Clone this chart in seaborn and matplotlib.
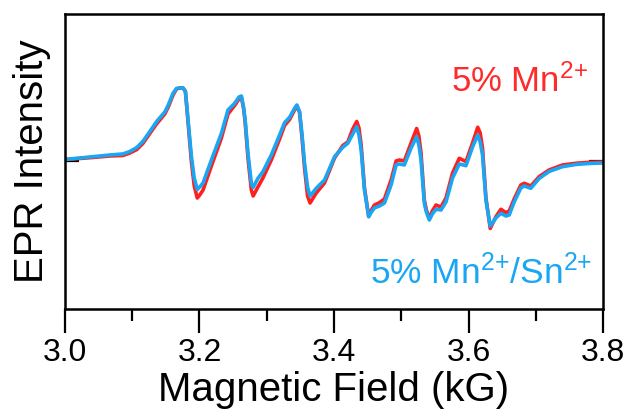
import numpy as np
import pandas as pd
import matplotlib
matplotlib.use("Agg")
import matplotlib.pyplot as plt
import seaborn as sns
from matplotlib.ticker import MultipleLocator

# Magnetic field (kG)
field = [3.0000, 3.0223, 3.0416, 3.0668, 3.0861, 3.0965, 3.1069, 3.1158, 3.1262, 3.1361,
         3.1484, 3.1533, 3.1607, 3.1658, 3.1707, 3.1756, 3.1791, 3.1830, 3.1880, 3.1922,
         3.1967, 3.2004, 3.2053, 3.2177, 3.2326, 3.2424, 3.2523, 3.2587, 3.2623, 3.2657,
         3.2679, 3.2721, 3.2771, 3.2798, 3.2869, 3.2943, 3.3068, 3.3191, 3.3265, 3.3340,
         3.3414, 3.3448, 3.3488, 3.3525, 3.3562, 3.3607, 3.3644, 3.3681, 3.3736, 3.3859,
         3.4008, 3.4131, 3.4205, 3.4279, 3.4338, 3.4371, 3.4404, 3.4453, 3.4516, 3.4557,
         3.4601, 3.4675, 3.4750, 3.4849, 3.4923, 3.4972, 3.5046, 3.5146, 3.5229, 3.5262,
         3.5294, 3.5343, 3.5373, 3.5417, 3.5462, 3.5517, 3.5591, 3.5665, 3.5763, 3.5863,
         3.5962, 3.6060, 3.6137, 3.6174, 3.6208, 3.6259, 3.6323, 3.6407, 3.6482, 3.6556,
         3.6605, 3.6679, 3.6778, 3.6827, 3.6927, 3.7050, 3.7198, 3.7396, 3.7595, 3.7792,
         3.8000]

# EPR derivative signal, 5% Mn2+
mn = [1.5, 2.5, 3.5, 5, 5.5, 8, 11.5, 17.5, 27.5, 37,
      47, 53.5, 66, 72, 73, 73, 69.5, 39, -1, -25,
      -37, -34, -29, -5, 23, 47, 55.5, 62, 64, 52,
      39, 3, -29, -35, -26, -17, 1, 22, 35.5, 41.5,
      51, 55, 48.5, 23, -7, -35, -42, -38, -32, -22,
      3, 15.5, 19, 32, 39.5, 33, 16, -27, -55.5, -49,
      -44, -41.7, -38, -19, 0, 1, 0, 18, 32.5, 25,
      8, -39, -49, -57.5, -50, -44, -46, -37, -12, 2.7,
      -0.7, 18, 33.7, 28, 13, -37, -67.5, -55.7, -48.3, -51.7,
      -50, -38, -24, -22.3, -25, -15.7, -9, -4, -2.3, -1.3,
      -1]

# EPR derivative signal, 5% Mn2+/Sn2+
mn_sn = [1.5, 3, 4.3, 6, 7, 9.5, 13.5, 19.5, 29.5, 39.3,
         49, 55.5, 67.7, 72.5, 73.2, 73, 69.5, 41, 4.3, -17,
         -28.5, -26, -22, 1, 27.7, 51, 57.7, 64, 65, 53,
         41, 7.7, -22.3, -26.5, -17.3, -10.7, 6, 26, 38.3, 43.7,
         52.7, 56, 49.3, 26, -2.3, -26, -35, -32, -27.3, -19,
         4.3, 13.7, 17.7, 27, 34.3, 26, 11, -29, -55.7, -51,
         -47, -45, -42, -24, -4, -3, -4, 13, 24.3, 16,
         1, -42.3, -51, -59, -53, -48.3, -49, -41, -17, -3,
         -4.7, 14, 26, 19, 6, -39, -65, -57, -52.3, -55,
         -54, -41, -27, -25, -27.3, -17.5, -10.5, -5.7, -3.5, -2.5,
         -2]

samples = ["5% Mn$^{2{+}}$", "5% Mn$^{2{+}}$/Sn$^{2{+}}$"]
colors = ["#ff1f1f", "#1aa6f2"]
xticks = [3.0, 3.2, 3.4, 3.6, 3.8]

df = pd.concat([
    pd.DataFrame({"field": field, "signal": mn, "sample": samples[0]}),
    pd.DataFrame({"field": field, "signal": mn_sn, "sample": samples[1]}),
])

sns.set_theme(style="ticks")
plt.rcParams["font.family"] = ["Liberation Sans", "DejaVu Sans"]
plt.rcParams["mathtext.fontset"] = "custom"
plt.rcParams["mathtext.rm"] = "Liberation Sans"
plt.rcParams["mathtext.it"] = "Liberation Sans"
plt.rcParams["mathtext.default"] = "regular"
plt.rcParams["text.color"] = "black"
plt.rcParams["axes.labelcolor"] = "black"
plt.rcParams["xtick.color"] = "black"
plt.rcParams["ytick.color"] = "black"

fig = plt.figure(figsize=(6.29, 4.11), dpi=100)
ax = fig.add_axes([0.1033, 0.2482, 0.8554, 0.7178])

sns.lineplot(data=df, x="field", y="signal", hue="sample", hue_order=samples,
             palette=colors, sort=False, estimator=None, linewidth=2.6,
             legend=False, ax=ax)
for line in ax.lines:
    line.set_solid_joinstyle("round")
    line.set_solid_capstyle("round")

ax.set_xlim(3.0, 3.8)
ax.set_ylim(-148, 147)
ax.set_xticks(xticks)
ax.set_xticklabels([f"{v:.1f}" for v in xticks])
ax.xaxis.set_minor_locator(MultipleLocator(0.1))
ax.tick_params(axis="x", which="major", direction="out", length=17, width=1.6,
               labelsize=23, pad=4)
ax.tick_params(axis="x", which="minor", direction="out", length=8.5, width=1.6)
ax.set_yticks([0])
ax.tick_params(axis="y", which="major", direction="in", length=10, width=1.6,
               left=True, right=True, labelleft=False)

for sp in ax.spines.values():
    sp.set_linewidth(1.8)
    sp.set_color("black")

ax.set_xlabel("Magnetic Field (kG)", fontsize=29, labelpad=2)
ax.set_ylabel("EPR Intensity", fontsize=29, labelpad=10)

ax.text(0.972, 0.772, samples[0], transform=ax.transAxes, ha="right", va="center",
        fontsize=25, color="#ff2a2a")
ax.text(0.98, 0.122, samples[1], transform=ax.transAxes, ha="right", va="center",
        fontsize=25.5, color="#1aa6f2")

fig.savefig("out.png", dpi=100)
